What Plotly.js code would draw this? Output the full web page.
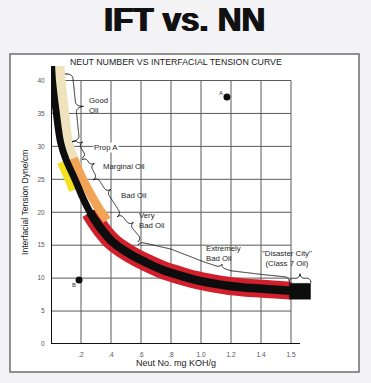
<!DOCTYPE html>
<html>
<head>
<meta charset="utf-8">
<script src="https://cdn.plot.ly/plotly-3.0.1.min.js"></script>
<style>
  html, body { margin: 0; padding: 0; background: #f3f3f5; }
  #chart { width: 371px; height: 383px; }
</style>
</head>
<body>
<div id="chart"></div>
<script>
// ---- data ----
const neutNo = [0.004, 0.01, 0.033, 0.065, 0.1, 0.16, 0.21, 0.26, 0.33, 0.41, 0.53, 0.64, 0.75, 0.86, 0.97, 1.08, 1.19, 1.3, 1.41, 1.6];
const ift    = [42.2, 40.0, 35.5, 30.5, 28.0, 25.0, 22.3, 20.0, 17.6, 15.5, 13.6, 12.3, 11.2, 10.4, 9.7, 9.2, 8.8, 8.55, 8.4, 8.1];

// coloured zones drawn along the curve
const beigeX  = [0.056, 0.064, 0.085, 0.115, 0.15, 0.175];
const beigeY  = [42.2, 40.0, 35.5, 30.5, 28.0, 26.8];
const yellowX = [0.067, 0.09, 0.113, 0.147];
const yellowY = [27.6, 26.4, 25.2, 23.3];
const orangeX = [0.15, 0.167, 0.213, 0.267, 0.327, 0.373];
const orangeY = [28.2, 27.2, 24.9, 22.6, 20.3, 18.8];
const redX    = [0.26, 0.33, 0.41, 0.53, 0.64, 0.75, 0.86, 0.97, 1.08, 1.19, 1.3, 1.41, 1.6];
const redY    = [20.0, 17.6, 15.5, 13.6, 12.3, 11.2, 10.4, 9.7, 9.2, 8.8, 8.55, 8.4, 8.1];

// "Disaster City" block
const class7X = [1.59, 1.73, 1.73, 1.59, 1.59];
const class7Y = [6.8, 6.8, 9.2, 9.2, 6.8];

// sample points
const sampleX = [1.173, 0.187];
const sampleY = [37.5, 9.7];
const sampleLabels = ['A', 'B'];

// ticks
const xTickVals = [0.2, 0.4, 0.6, 0.8, 1.0, 1.2, 1.4, 1.6];
const xTickText = ['.2', '.4', '.6', '.8', '1.0', '1.2', '1.4', '1.5'];
const yTickVals = [0, 5, 10, 15, 20, 25, 30, 35, 40];

// zone labels
const zoneNames = ['Good<br>Oil', 'Prop A', 'Marginal Oil', 'Bad Oil', 'Very<br>Bad Oil', 'Extremely<br>Bad Oil', '"Disaster City"<br>(Class 7 Oil)'];
const zoneLabelX = [0.247, 0.28, 0.34, 0.46, 0.58, 1.027, 1.573];
const zoneLabelY = [36.2, 29.9, 26.9, 22.6, 18.7, 13.8, 13.0];
// brace base lines (the ends of each brace), in data units
const bracePts = [
  [[0.093, 41.0], [0.14, 30.7]],
  [[0.14, 30.7], [0.207, 28.2]],
  [[0.207, 28.0], [0.28, 24.9]],
  [[0.28, 24.9], [0.44, 19.3]],
  [[0.44, 19.3], [0.58, 15.5]],
  [[0.58, 15.0], [0.793, 13.9], [1.013, 11.95], [1.193, 10.6], [1.413, 10.0], [1.587, 9.6]],
  [[1.587, 9.3], [1.733, 9.3]]
];
const braceH = [15, 9, 9, 10, 9, 7, 9];
const braceF = [0.5, 0.3, 0.4, 0.4, 0.45, 0.55, 0.5];
const braceW = [5, 3.5, 4, 4, 4, 5, 4];

// ---- layout geometry ----
const ML = 51, MT = 66, PW = 270, PH = 278, W = 371, H = 383;
const XR = 1.8, YR = 42.2;
const toPx = (p) => [ML + p[0] / XR * PW, MT + PH - p[1] / YR * PH];
const toData = (px, py) => [(px - ML) / PW * XR, (MT + PH - py) / PH * YR];
const pxX = (px) => (px - ML) / PW;
const pxY = (py) => (MT + PH - py) / PH;

function bracePath(pts, h, f, w) {
  const P = pts.map(toPx);
  const seg = [];
  let L = 0;
  for (let i = 0; i < P.length - 1; i++) {
    const dx = P[i + 1][0] - P[i][0], dy = P[i + 1][1] - P[i][1];
    const l = Math.hypot(dx, dy);
    seg.push({ a: P[i], u: [dx / l, dy / l], s0: L, l: l });
    L += l;
  }
  const at = (s) => {
    let k = seg.length - 1;
    for (let i = 0; i < seg.length; i++) { if (s <= seg[i].s0 + seg[i].l) { k = i; break; } }
    const g = seg[k], d = s - g.s0;
    return { p: [g.a[0] + g.u[0] * d, g.a[1] + g.u[1] * d], n: [g.u[1], -g.u[0]] };
  };
  const hh = h / 2, m = f * L;
  const prof = (s) => {
    if (s < w) { const q = 1 - s / w; return hh * Math.sqrt(Math.max(0, 1 - q * q)); }
    if (s > L - w) { const q = 1 - (L - s) / w; return hh * Math.sqrt(Math.max(0, 1 - q * q)); }
    const e = Math.abs(s - m);
    if (e < w) { const q = (w - e) / w; return hh + hh * (1 - Math.sqrt(Math.max(0, 1 - q * q))); }
    return hh;
  };
  const N = Math.max(40, Math.ceil(L * 2));
  let path = '';
  const sList = [];
  for (let i = 0; i <= N; i++) sList.push(i / N * L);
  sList.push(m); sList.sort((a, b) => a - b);
  sList.forEach((s, i) => {
    const r = at(s), t = prof(s);
    const d = toData(r.p[0] + r.n[0] * t, r.p[1] + r.n[1] * t);
    path += (i === 0 ? 'M' : 'L') + d[0].toFixed(5) + ',' + d[1].toFixed(4);
  });
  return path;
}

// ---- traces ----
const band = (x, y, color, width) => ({ x: x, y: y, mode: 'lines', hoverinfo: 'skip',
  line: { color: color, width: width, shape: 'spline', simplify: false } });
const traces = [
  band(beigeX, beigeY, '#eee3bd', 10),
  band(redX, redY, '#d11f2b', 18),
  band(orangeX, orangeY, '#f1a456', 9),
  band(yellowX, yellowY, '#f1e11e', 8),
  band(neutNo.slice(0, 10), ift.slice(0, 10), '#0d0d0d', 7),
  band(neutNo.slice(7), ift.slice(7), '#0d0d0d', 8.5),
  { x: class7X, y: class7Y, mode: 'lines', fill: 'toself', fillcolor: '#0d0d0d', line: { color: '#0d0d0d', width: 0.5 }, hoverinfo: 'skip' },
  { x: sampleX, y: sampleY, mode: 'markers', marker: { color: '#0d0d0d', size: 7 }, hoverinfo: 'skip' }
];

// ---- shapes ----
const shapes = [];
shapes.push({ type: 'rect', xref: 'paper', yref: 'paper', x0: pxX(10), x1: pxX(359), y0: pxY(372), y1: pxY(54),
  fillcolor: '#ffffff', line: { color: '#6e6e6e', width: 1.5 }, layer: 'below' });
const gridMaxX = xTickVals[xTickVals.length - 1];
const gridMaxY = yTickVals[yTickVals.length - 1];
xTickVals.forEach(v => shapes.push({ type: 'line', xref: 'x', yref: 'y', x0: v, x1: v, y0: 0, y1: gridMaxY,
  line: { color: '#5a5a5a', width: 1 }, layer: 'below' }));
yTickVals.slice(1).forEach(v => shapes.push({ type: 'line', xref: 'x', yref: 'y', x0: 0, x1: gridMaxX, y0: v, y1: v,
  line: { color: '#5a5a5a', width: 1 }, layer: 'below' }));
shapes.push({ type: 'line', xref: 'x', yref: 'y', x0: 0, x1: 1.66, y0: 0, y1: 0, line: { color: '#111', width: 2 }, layer: 'below' });
shapes.push({ type: 'line', xref: 'x', yref: 'y', x0: 0, x1: 0, y0: 0, y1: YR, line: { color: '#111', width: 2 }, layer: 'below' });
bracePts.forEach((pts, i) => shapes.push({ type: 'path', xref: 'x', yref: 'y',
  path: bracePath(pts, braceH[i], braceF[i], braceW[i]),
  line: { color: '#1e1e1e', width: 1 }, layer: 'above' }));

// ---- annotations ----
const fam = '"Liberation Sans", Arial, sans-serif';
const annotations = [];
annotations.push({ xref: 'paper', yref: 'paper', x: pxX(184), y: pxY(20), text: 'IFT vs. NN', showarrow: false,
  xanchor: 'center', yanchor: 'middle',
  font: { family: fam, size: 33, weight: 'bold', color: '#111', shadow: '0.8px 0 0 #111, -0.8px 0 0 #111' } });
annotations.push({ xref: 'paper', yref: 'paper', x: pxX(176), y: pxY(62), text: 'NEUT NUMBER VS INTERFACIAL TENSION CURVE',
  showarrow: false, xanchor: 'center', yanchor: 'middle', font: { family: fam, size: 8.8, color: '#1a1a1a' } });
annotations.push({ xref: 'paper', yref: 'paper', x: pxX(176), y: pxY(363), text: 'Neut No. mg KOH/g',
  showarrow: false, xanchor: 'center', yanchor: 'middle', font: { family: fam, size: 9, color: '#222' } });
annotations.push({ xref: 'paper', yref: 'paper', x: pxX(25), y: pxY(203), text: 'Interfacial Tension Dyne/cm',
  showarrow: false, textangle: -90, xanchor: 'center', yanchor: 'middle', font: { family: fam, size: 8.6, color: '#222' } });
zoneNames.forEach((t, i) => annotations.push({ xref: 'x', yref: 'y', x: zoneLabelX[i], y: zoneLabelY[i], text: t,
  showarrow: false, xanchor: i === 6 ? 'center' : 'left', yanchor: 'middle', align: i === 6 ? 'center' : 'left',
  bgcolor: i === 1 ? '#ffffff' : 'rgba(0,0,0,0)', borderpad: 0,
  font: { family: fam, size: 7.8, color: '#262626' } }));
annotations.push({ xref: 'x', yref: 'y', x: sampleX[0], y: sampleY[0], text: sampleLabels[0], showarrow: false,
  xshift: -6, yshift: 4, font: { family: fam, size: 6, color: '#333' } });
annotations.push({ xref: 'x', yref: 'y', x: sampleX[1], y: sampleY[1], text: sampleLabels[1], showarrow: false,
  xshift: -5, yshift: -5, font: { family: fam, size: 6, color: '#333' } });

const layout = {
  width: W, height: H,
  margin: { l: ML, r: W - ML - PW, t: MT, b: H - MT - PH, pad: 0 },
  paper_bgcolor: '#f3f3f5', plot_bgcolor: 'rgba(0,0,0,0)',
  showlegend: false,
  xaxis: { range: [0, XR], showgrid: false, zeroline: false, showline: false,
    tickvals: xTickVals, ticktext: xTickText, ticks: 'outside', ticklen: 4, tickcolor: 'rgba(0,0,0,0)',
    tickfont: { family: fam, size: 6.5, color: '#555' }, fixedrange: true },
  yaxis: { range: [0, YR], showgrid: false, zeroline: false, showline: false,
    tickvals: yTickVals, ticks: 'outside', ticklen: 4, tickcolor: 'rgba(0,0,0,0)',
    tickfont: { family: fam, size: 6.5, color: '#555' }, fixedrange: true },
  shapes: shapes, annotations: annotations
};

Plotly.newPlot('chart', traces, layout, { displayModeBar: false, staticPlot: true });
</script>
</body>
</html>
